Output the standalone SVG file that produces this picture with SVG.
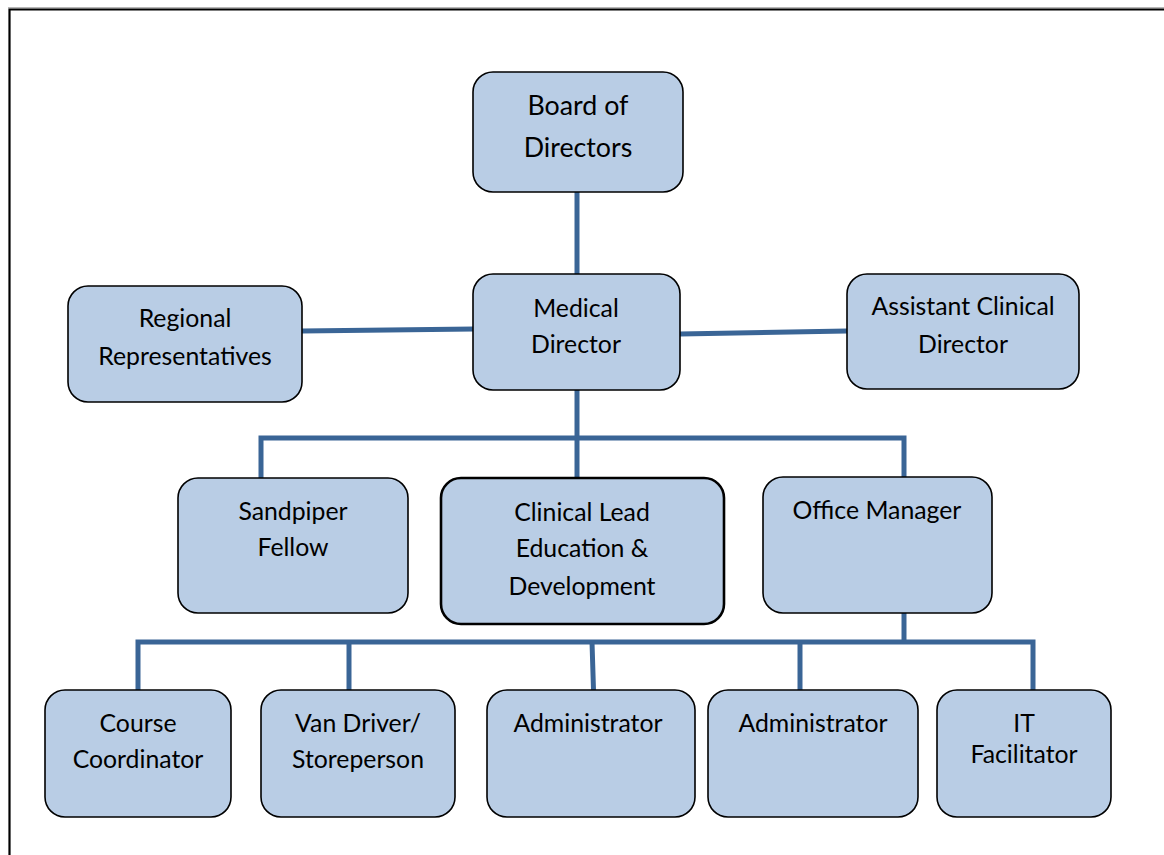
<svg xmlns="http://www.w3.org/2000/svg" width="1164" height="855" viewBox="0 0 1164 855">
<style>
.box{fill:#B9CDE5;stroke:#000;stroke-width:1.6}
.thick{stroke-width:2.6}
.t{font-family:Lato,"Open Sans","Liberation Sans",sans-serif;font-size:24.8px;fill:#000;text-anchor:middle}
.big{font-size:26.8px}
.c{stroke:#3A6596;stroke-width:5;fill:none;stroke-linecap:butt;stroke-linejoin:miter}
</style>
<rect x="0" y="0" width="1164" height="855" fill="#fff"/>
<line x1="8" y1="7.8" x2="1164" y2="7.8" stroke="#999" stroke-width="1"/>
<path d="M9.5 855 V9.5 H1164" fill="none" stroke="#000" stroke-width="2.2"/>

<g id="connectors">
<line class="c" x1="577" y1="192" x2="577" y2="275"/>
<line class="c" x1="302" y1="331" x2="474" y2="329"/>
<line class="c" x1="680" y1="334" x2="847" y2="331"/>
<line class="c" x1="577" y1="390" x2="577" y2="492"/>
<path class="c" d="M261 488 V438 H904 V488"/>
<path class="c" d="M904 613 V642"/>
<path class="c" d="M138 690 V642 H1033 V690"/>
<line class="c" x1="349" y1="642" x2="349" y2="690"/>
<line class="c" x1="592" y1="642" x2="593.5" y2="690"/>
<line class="c" x1="800" y1="642" x2="800" y2="690"/>
</g>

<g id="board"><rect class="box" x="473" y="72" width="210" height="120" rx="20"/>
<text class="t big" x="578" y="115">Board of</text><text class="t big" x="578" y="157">Directors</text></g>

<g id="medical"><rect class="box" x="473" y="274" width="207" height="116" rx="20"/>
<text class="t" x="576" y="317">Medical</text><text class="t" x="576" y="353">Director</text></g>

<g id="regional"><rect class="box" x="68" y="286" width="234" height="116" rx="20"/>
<text class="t" x="185" y="327">Regional</text><text class="t" x="185" y="365">Representatives</text></g>

<g id="assistant"><rect class="box" x="847" y="274" width="232" height="115" rx="20"/>
<text class="t" x="963" y="315">Assistant Clinical</text><text class="t" x="963" y="353">Director</text></g>

<g id="sandpiper"><rect class="box" x="178" y="478" width="230" height="135" rx="20"/>
<text class="t" x="293" y="520">Sandpiper</text><text class="t" x="293" y="556">Fellow</text></g>

<g id="clinical"><rect class="box thick" x="441" y="478" width="283" height="146" rx="20"/>
<text class="t" x="582" y="521">Clinical Lead</text><text class="t" x="582" y="557">Education &amp;</text><text class="t" x="582" y="595">Development</text></g>

<g id="office"><rect class="box" x="763" y="477" width="229" height="136" rx="20"/>
<text class="t" x="877" y="519">Office Manager</text></g>

<g id="course"><rect class="box" x="45" y="690" width="186" height="127" rx="20"/>
<text class="t" x="138" y="732">Course</text><text class="t" x="138" y="768">Coordinator</text></g>

<g id="van"><rect class="box" x="261" y="690" width="194" height="127" rx="20"/>
<text class="t" x="358" y="732">Van Driver/</text><text class="t" x="358" y="768">Storeperson</text></g>

<g id="admin1"><rect class="box" x="487" y="690" width="208" height="127" rx="20"/>
<text class="t" x="588" y="732">Administrator</text></g>

<g id="admin2"><rect class="box" x="708" y="690" width="210" height="127" rx="20"/>
<text class="t" x="813" y="732">Administrator</text></g>

<g id="it"><rect class="box" x="937" y="690" width="174" height="127" rx="20"/>
<text class="t" x="1024" y="732">IT</text><text class="t" x="1024" y="763">Facilitator</text></g>
</svg>
